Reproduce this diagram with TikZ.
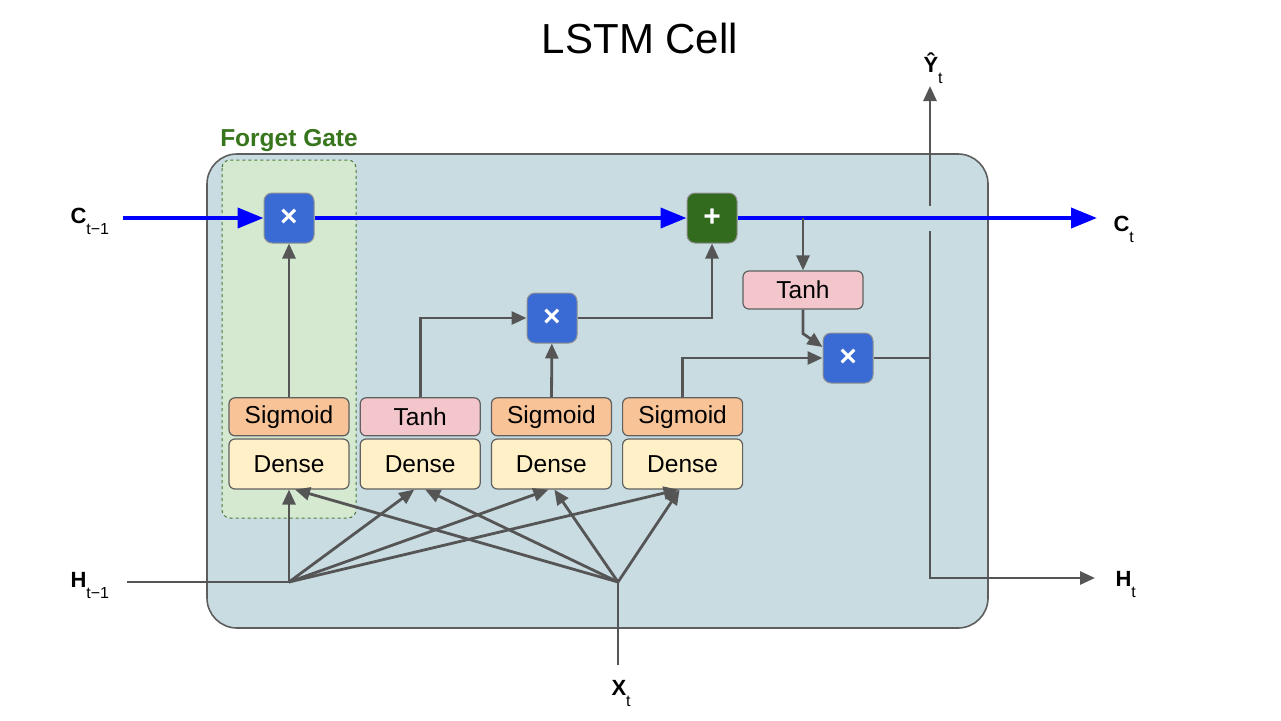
\documentclass[tikz,border=0pt]{standalone}
\usepackage{fontspec}
\setmainfont{Liberation Sans}
\usetikzlibrary{positioning,calc,arrows.meta}
\definecolor{cellbg}{HTML}{C9DCE2}
\definecolor{cellline}{HTML}{5E5E5E}
\definecolor{fgfill}{HTML}{D5E8D0}
\definecolor{fgline}{HTML}{4A7A3A}
\definecolor{fgtext}{HTML}{38761D}
\definecolor{wiregray}{HTML}{555555}
\definecolor{cblue}{HTML}{0000FF}
\definecolor{multcol}{HTML}{3A6BD5}
\definecolor{addcol}{HTML}{326B1E}
\definecolor{densecol}{HTML}{FFF0C8}
\definecolor{sigcol}{HTML}{F8C396}
\definecolor{tanhcol}{HTML}{F2C6CA}
\definecolor{boxline}{HTML}{606060}
\newcommand\iolbl[2]{\textbf{#1}\raisebox{-11pt}{\fontsize{16}{16}\selectfont #2}}
\tikzset{
  >={Triangle[length=15pt,width=13pt]},
  wire/.style={draw=wiregray,line width=2.8pt,->},
  cline/.style={draw=cblue,line width=4pt,-{Triangle[length=26pt,width=20pt]}},
  actbox/.style={draw=boxline,line width=1.2pt,rounded corners=6pt,minimum width=120pt,inner sep=0pt,font=\fontsize{24.5}{26}\selectfont},
  densebox/.style={actbox,fill=densecol,minimum height=50pt},
  sigbox/.style={actbox,fill=sigcol,minimum height=38pt},
  tanhbox/.style={actbox,fill=tanhcol,minimum height=38pt},
  opbox/.style={draw=boxline!70,line width=1pt,rounded corners=8pt,minimum size=50pt,inner sep=0pt,text=white,font=\bfseries\fontsize{30}{30}\selectfont},
  multbox/.style={opbox,fill=multcol},
  addbox/.style={opbox,fill=addcol},
  iotext/.style={anchor=base west,font=\fontsize{22}{22}\selectfont},
}
\begin{document}
\begin{tikzpicture}[x=1pt,y=-1pt]
\useasboundingbox (0,0) rectangle (1281,720);
% cell and forget gate
\draw[fill=cellbg,draw=cellline,line width=1.6pt,rounded corners=30pt] (207,154) rectangle (988,628);
\draw[fill=fgfill,draw=fgline,dashed,line width=1pt,rounded corners=8pt] (222,160) rectangle (356,518);
\node[font=\fontsize{42}{44}\selectfont] (title) at (640,38) {LSTM Cell};
\node[font=\bfseries\fontsize{24.5}{26}\selectfont,text=fgtext] (fglbl) at (289,141) {Forget Gate};
% layers
\node[densebox] (d1) at (289,464) {Dense};
\node[densebox,right=10pt of d1] (d2) {Dense};
\node[densebox,right=10pt of d2] (d3) {Dense};
\node[densebox,right=10pt of d3] (d4) {Dense};
\node[sigbox,above=2pt of d1] (s1) {Sigmoid};
\node[tanhbox,above=2pt of d2] (t1) {Tanh};
\node[sigbox,above=2pt of d3] (s2) {Sigmoid};
\node[sigbox,above=2pt of d4] (s3) {Sigmoid};
\node[tanhbox] (t2) at (803,290) {Tanh};
% operations
\node[multbox] (m1) at (289,218) {×};
\node[multbox] (m2) at (552,318) {×};
\node[multbox] (m3) at (848,358) {×};
\node[addbox] (add) at (712,218) {+};
% inputs and outputs
\node[iotext] (cin) at (67,223) {\iolbl{C}{t−1}};
\node[iotext] (hin) at (67,587) {\iolbl{H}{t−1}};
\node[iotext] (xin) at (608,695) {\iolbl{X}{t}};
\node[iotext] (cout) at (1110,231) {\iolbl{C}{t}};
\node[iotext] (hout) at (1112,586) {\iolbl{H}{t}};
\node[iotext] (yout) at (920,72) {\iolbl{Ŷ}{t}};
\coordinate (cs) at (123,218);
\coordinate (ce) at (1097,218);
\coordinate (hs) at (127,582);
\coordinate (hj) at (289,582);
\coordinate (xs) at (618,665);
\coordinate (xj) at (618,582);
\coordinate (tap) at (803,218);
\coordinate (yj) at (930,358);
\coordinate (ylo) at (930,231);
\coordinate (yhi) at (930,206);
\coordinate (yt) at (930,86);
\coordinate (hb) at (930,578);
\coordinate (he) at (1095,578);
% cell state
\draw[cline] (cs) -- (m1);
\draw[cline] (m1) -- (add);
\draw[cline] (add) -- (ce);
% inputs to dense layers
\draw[wire,-] (hs) -- (hj);
\draw[wire,-] (xs) -- (xj);
\foreach \d/\hx/\xx in {d1/0/6,d2/-6/5,d3/-3/3,d4/-4/-3}{
  \draw[wire] (hj) -- ($(\d.south)+(\hx,0)$);
  \draw[wire] (xj) -- ($(\d.south)+(\xx,0)$);
}
% gates
\draw[wire] (s1) -- (m1);
\draw[wire] (t1) |- (m2);
\draw[wire] (s2) -- (m2);
\draw[wire] (m2) -| (add);
\draw[wire] (s3) |- (m3);
\draw[wire] (tap) -- (t2);
\draw[wire] (t2.south) -- ++(0,24) -- ($(m3.west)+(0,-11)$);
\draw[wire,-] (m3) -- (yj);
% outputs
\draw[wire] (ylo) -- (hb) -- (he);
\draw[wire] (yhi) -- (yt);
\end{tikzpicture}
\end{document}
